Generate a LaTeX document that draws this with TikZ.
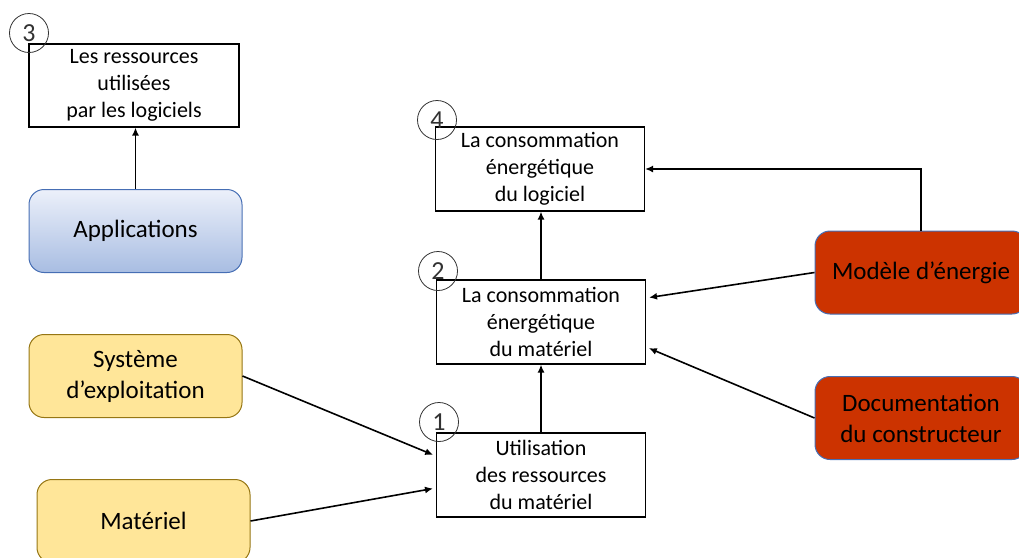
\documentclass[tikz,border=0pt]{standalone}
\usepackage{fontspec}
\setmainfont{Carlito}
\usetikzlibrary{arrows.meta,calc}
\definecolor{bluetop}{RGB}{236,240,250}
\definecolor{bluebot}{RGB}{168,189,226}
\definecolor{blueedge}{RGB}{70,110,180}
\definecolor{yelfill}{RGB}{255,230,153}
\definecolor{yeledge}{RGB}{150,118,20}
\definecolor{redfill}{RGB}{204,51,0}
\definecolor{circedge}{RGB}{50,50,50}
\tikzset{
  whitebox/.style={draw=black, line width=1.1pt, fill=white, minimum width=209pt, minimum height=84pt, align=center, inner sep=2pt, font=\fontsize{22}{27}\selectfont},
  colbox/.style={rounded corners=15pt, minimum width=213pt, minimum height=83pt, align=center, inner sep=2pt, font=\fontsize{25}{31}\selectfont},
  bluebox/.style={colbox, draw=blueedge, line width=1pt, top color=bluetop, bottom color=bluebot},
  yelbox/.style={colbox, draw=yeledge, line width=1pt, fill=yelfill},
  redbox/.style={colbox, draw=blueedge, line width=1pt, fill=redfill},
  numcirc/.style={draw=circedge, line width=0.8pt, circle, minimum size=39pt, inner sep=0pt, font=\fontsize{26}{26}\selectfont, text=circedge},
  arr/.style={draw=black, line width=1.8pt, -{Latex[length=8pt,width=7pt]}},
  darr/.style={draw=black, line width=1.6pt, -{Latex[length=8pt,width=7pt]}, shorten >=3pt}
}
\begin{document}
\begin{tikzpicture}[x=1pt,y=-1pt]
\useasboundingbox (0,0) rectangle (1019,557);
% white boxes
\node[whitebox, minimum width=210pt, minimum height=83pt] (b3) at (134,85.5) {Les ressources\\utilisées\\par les logiciels};
\node[whitebox] (b4) at (540,169) {La consommation\\énergétique\\du logiciel};
\node[whitebox] (b2) at (541,322) {La consommation\\énergétique\\du matériel};
\node[whitebox] (b1) at (541,475) {Utilisation\\des ressources\\du matériel};
% coloured boxes
\node[bluebox] (app) at (135.5,231) {Applications};
\node[yelbox] (sys) at (135.5,376) {Système\\d’exploitation};
\node[yelbox] (mat) at (143.5,521) {Matériel};
\node[redbox, minimum width=212pt] (mod) at (921,272.5) {Modèle d’énergie};
\node[redbox, minimum width=212pt] (doc) at (921,418) {Documentation\\du constructeur};
% numbered circles
\node[numcirc] (n3) at (29,33) {3};
\node[numcirc] (n4) at (437,120) {4};
\node[numcirc] (n2) at (438,271) {2};
\node[numcirc] (n1) at (439,422) {1};
% connectors
\draw[arr] (app.north) -- (app.north |- b3.south);
\draw[arr] (b2.north) -- (b2.north |- b4.south);
\draw[arr] (b1.north) -- (b1.north |- b2.south);
\draw[arr] (mod.north) |- (b4.east);
\draw[darr] (mod.west) -- ([yshift=24pt]b2.east);
\draw[darr] (doc.west) -- ([yshift=-25pt]b2.east);
\draw[darr] (sys.east) -- ([yshift=19pt]b1.west);
\draw[darr] (mat.east) -- ([yshift=-13pt]b1.west);
\end{tikzpicture}
\end{document}
